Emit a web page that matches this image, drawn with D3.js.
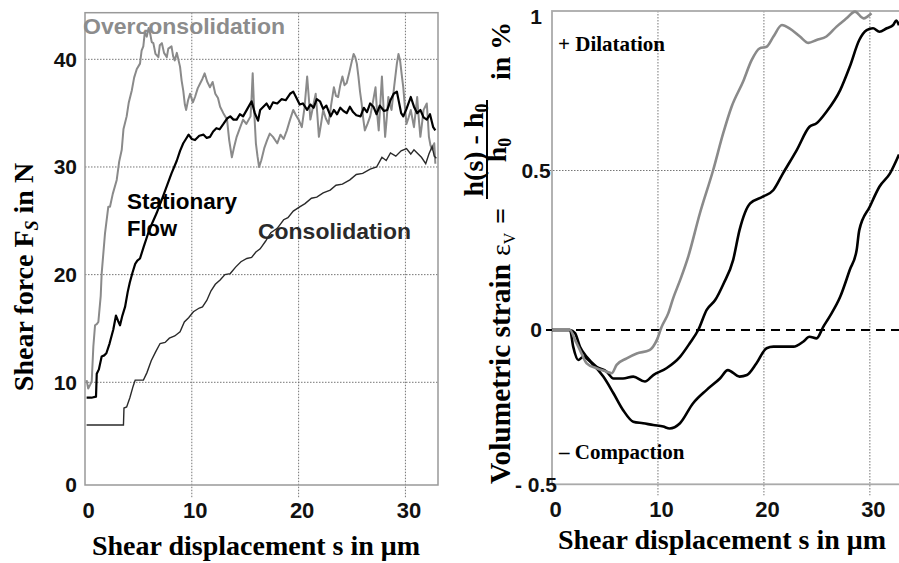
<!DOCTYPE html>
<html>
<head>
<meta charset="utf-8">
<script src="https://cdn.jsdelivr.net/npm/d3@7"></script>
<style>
  body { margin: 0; background: #fff; }
  svg { display: block; }
  text { font-family: "Liberation Sans", Arial, sans-serif; font-weight: bold; }
  .serif { font-family: "Liberation Serif", "Times New Roman", serif; }
</style>
</head>
<body>
<div class="root"></div>
<script>

// ---------- left panel: shear force F_S (N) vs shear displacement s (um) ----------
var overPts = [
  [0.15,10.2],[0.3,9.4],[0.5,9.8],[0.63,10.1],[0.78,13.3],[0.94,15.3],[1.1,15.4],[1.25,15.6],[1.47,18.0],
  [1.56,20.1],[1.87,23.8],[2.18,26.3],[2.34,26.3],[2.6,27.5],[2.97,28.8],[3.2,30.5],[3.44,31.6],[3.6,33.5],
  [3.9,34.7],[4.1,36.0],[4.38,37.1],[4.6,38.3],[4.85,39.1],[5.15,39.6],[5.3,40.8],[5.46,41.2],[5.6,42.5],
  [5.78,42.1],[5.95,42.9],[6.1,42.4],[6.25,41.6],[6.4,41.5],[6.6,40.5],[6.87,40.2],[7.0,41.3],[7.2,41.5],
  [7.4,40.6],[7.66,40.2],[7.8,41.0],[8.1,41.2],[8.25,40.3],[8.4,39.9],[8.6,40.6],[8.9,39.3],[9.05,38.0],
  [9.2,37.1],[9.35,35.8],[9.47,35.3],[9.65,36.2],[9.84,36.8],[10.1,36.0],[10.3,36.5],[10.55,37.3],[10.8,37.8],
  [11.0,38.2],[11.2,38.7],[11.45,37.9],[11.7,37.4],[11.95,37.9],[12.2,36.8],[12.45,36.4],[12.65,35.6],
  [12.95,35.0],[13.3,34.4],[13.5,32.5],[13.75,30.9],[13.95,31.8],[14.2,32.8],[14.5,33.6],[14.8,34.4],
  [15.1,34.0],[15.5,34.7],[15.6,36.5],[15.7,38.7],[15.85,35.0],[16.0,32.2],[16.15,31.0],[16.3,30.0],
  [16.5,30.6],[16.8,31.8],[17.05,32.5],[17.3,33.1],[17.6,32.8],[18.0,32.2],[18.3,33.0],[18.6,32.6],
  [18.9,33.4],[19.2,34.4],[19.5,35.3],[19.75,34.8],[20.0,34.4],[20.3,33.7],[20.55,35.5],[20.8,38.4],
  [20.95,36.5],[21.1,34.4],[21.35,35.6],[21.6,36.8],[21.75,34.9],[21.9,32.8],[22.1,34.0],[22.3,35.3],
  [22.55,34.5],[22.8,34.0],[23.05,35.8],[23.3,37.4],[23.5,36.6],[23.7,36.5],[23.9,37.6],[24.1,38.4],
  [24.3,37.6],[24.5,37.8],[24.75,38.8],[25.0,39.9],[25.15,40.5],[25.3,40.2],[25.45,39.6],[25.6,38.4],
  [25.75,37.0],[25.9,35.9],[26.05,34.5],[26.2,33.4],[26.45,34.0],[26.7,34.7],[26.95,36.0],[27.2,37.4],
  [27.35,35.0],[27.5,33.4],[27.65,35.9],[27.8,38.4],[27.95,35.5],[28.1,32.8],[28.25,34.5],[28.4,36.5],
  [28.55,35.8],[28.7,35.3],[28.95,37.5],[29.2,39.6],[29.35,40.5],[29.5,39.9],[29.65,38.6],[29.8,37.4],
  [29.95,35.6],[30.1,34.0],[30.3,34.6],[30.5,35.3],[30.65,34.5],[30.8,33.7],[30.95,35.1],[31.1,36.5],
  [31.25,34.5],[31.4,32.8],[31.55,34.0],[31.7,35.3],[31.85,35.6],[32.0,35.9],[32.1,34.4],[32.2,32.8],
  [32.35,32.0],[32.5,31.6],[32.6,31.9],[32.7,32.2],[32.8,30.3]
];

var flowPts = [
  [0.15,8.5],[0.6,8.5],[1.03,8.6],[1.1,10.8],[1.3,11.2],[1.56,12.4],[1.8,12.5],[2.0,12.7],[2.3,13.6],
  [2.65,14.9],[2.9,16.2],[3.1,15.7],[3.28,15.3],[3.5,16.2],[3.75,17.0],[4.0,18.4],[4.2,19.3],[4.45,20.2],
  [4.7,21.0],[4.9,21.3],[5.15,21.5],[5.5,22.6],[5.9,23.8],[6.3,24.8],[6.7,25.7],[7.2,27.0],[7.65,28.2],
  [8.1,29.4],[8.6,30.6],[8.9,31.5],[9.2,32.2],[9.45,32.6],[9.7,33.0],[10.0,32.6],[10.3,32.5],[10.7,32.9],
  [11.1,33.0],[11.4,32.7],[11.7,32.8],[12.0,33.3],[12.3,33.6],[12.6,33.5],[12.96,34.0],[13.3,34.5],
  [13.6,34.7],[13.9,34.4],[14.2,34.4],[14.5,34.9],[14.8,34.7],[15.2,35.4],[15.6,36.1],[15.9,35.0],
  [16.2,34.3],[16.4,35.3],[16.7,35.6],[17.0,35.9],[17.3,35.4],[17.6,36.0],[18.0,35.9],[18.4,36.3],
  [18.8,36.2],[19.2,36.8],[19.5,37.0],[19.8,36.4],[20.1,35.8],[20.4,35.9],[20.8,35.3],[21.1,35.8],
  [21.4,35.5],[21.7,36.3],[22.0,36.1],[22.3,35.4],[22.6,35.7],[23.0,34.7],[23.3,35.3],[23.6,34.9],
  [23.9,35.5],[24.2,35.2],[24.5,35.0],[24.8,35.6],[25.1,35.1],[25.4,34.8],[25.8,34.7],[26.1,35.5],
  [26.4,35.1],[26.7,35.9],[27.0,35.6],[27.3,34.9],[27.6,35.7],[28.0,35.2],[28.3,35.3],[28.6,36.2],
  [28.9,36.8],[29.2,37.0],[29.4,36.0],[29.6,35.0],[29.8,34.7],[30.1,35.4],[30.5,36.5],[30.8,35.6],
  [31.1,35.0],[31.4,35.3],[31.7,34.6],[32.0,34.4],[32.3,34.9],[32.6,33.7],[32.8,33.4]
];

var consPts = [
  [0.15,5.84],[3.6,5.84],[3.65,7.5],[3.9,7.6],[4.2,8.5],[4.5,9.6],[4.7,10.2],[5.47,10.2],[5.8,10.9],
  [6.2,12.0],[6.6,12.8],[7.03,13.6],[7.5,13.7],[7.9,14.1],[8.4,14.3],[8.9,14.7],[9.3,15.6],[9.7,16.0],
  [10.15,16.55],[10.7,16.9],[11.0,17.0],[11.4,17.6],[11.8,18.5],[12.2,19.1],[12.65,19.5],[13.1,20.0],
  [13.6,20.1],[14.1,20.7],[14.6,21.2],[15.15,21.5],[15.6,21.6],[16.0,22.1],[16.4,22.4],[16.9,23.1],
  [17.4,23.9],[18.0,24.3],[18.6,25.1],[19.0,25.3],[19.5,25.9],[20.1,26.3],[20.6,26.6],[21.2,27.1],
  [21.7,27.2],[22.3,27.6],[22.96,27.85],[23.5,28.3],[24.1,28.4],[24.8,28.8],[25.4,29.3],[26.0,29.4],
  [26.7,29.8],[27.3,30.0],[27.8,30.9],[28.2,30.6],[28.6,31.3],[29.1,31.0],[29.6,31.5],[30.1,31.7],
  [30.5,31.2],[30.8,31.6],[31.1,31.3],[31.5,30.9],[31.9,30.3],[32.2,31.2],[32.5,31.9],[32.7,31.0],[32.9,30.8]
];

var forceTicks = [0, 10, 20, 30, 40];
var dispTicks  = [0, 10, 20, 30];

// ---------- right panel: volumetric strain (%) vs shear displacement s (um) ----------
var strainOver = [
  [0,0],[1.7,0],[2.17,-0.032],[2.64,-0.065],[3.27,-0.108],[4.2,-0.124],[5.16,-0.135],[5.63,-0.14],
  [6.1,-0.113],[7.05,-0.092],[8.0,-0.076],[9.2,-0.065],[9.9,-0.032],[10.35,0.01],[10.97,0.052],[11.44,0.1],
  [12.1,0.157],[12.86,0.23],[13.96,0.366],[15.2,0.5],[16.16,0.617],[16.95,0.7],[18.05,0.78],[18.84,0.846],
  [19.6,0.883],[20.25,0.888],[20.9,0.92],[21.7,0.956],[22.45,0.945],[23.4,0.92],[24.2,0.9],[24.97,0.909],
  [25.9,0.92],[26.86,0.951],[27.8,0.977],[28.6,0.998],[29.4,0.977],[30.15,0.993]
];

var strainFlow = [
  [0,0],[1.7,0],[2.17,-0.01],[2.64,-0.054],[3.27,-0.087],[4.2,-0.119],[5.16,-0.135],[5.8,-0.157],
  [6.7,-0.157],[7.67,-0.151],[8.77,-0.167],[9.56,-0.146],[10.8,-0.124],[12.08,-0.087],[13.0,-0.043],
  [13.8,0],[14.6,0.063],[15.4,0.094],[16.2,0.146],[17.1,0.22],[17.7,0.313],[18.7,0.397],[19.9,0.418],
  [20.9,0.439],[21.8,0.491],[23.1,0.564],[24.3,0.637],[24.97,0.648],[25.9,0.684],[27.2,0.752],[28.1,0.825],
  [29.0,0.909],[29.7,0.94],[30.3,0.946],[30.9,0.935],[31.6,0.946],[32.2,0.956],[32.5,0.97],[32.75,0.955]
];

var strainCons = [
  [0,0],[1.7,0],[2.0,-0.054],[2.48,-0.097],[2.95,-0.087],[3.9,-0.113],[4.84,-0.151],[5.8,-0.205],
  [6.7,-0.259],[7.67,-0.297],[8.6,-0.302],[9.56,-0.308],[10.5,-0.313],[11.1,-0.319],[12.08,-0.302],
  [13.3,-0.238],[14.6,-0.194],[15.85,-0.157],[16.6,-0.13],[17.7,-0.151],[18.4,-0.146],[19.3,-0.108],
  [20.25,-0.059],[20.9,-0.054],[22.8,-0.054],[23.7,-0.038],[24.3,-0.022],[24.97,-0.027],[25.6,0.01],
  [26.2,0.042],[27.2,0.104],[28.1,0.188],[28.75,0.25],[29.0,0.313],[30.0,0.387],[30.9,0.449],[31.9,0.491],
  [32.75,0.55]
];

var strainTicks  = [-0.5, 0, 0.5, 1];
var strainLabels = ['- 0.5', '0', '0.5', '1'];


var width = 899, height = 563;

var svg = d3.select('.root')
            .append('svg')
            .attr('width', width)
            .attr('height', height);

var sans  = '"Liberation Sans", Arial, sans-serif';

//=============== left panel ===================

var xL = d3.scaleLinear().domain([0, 33.05]).range([85, 438]);
var yL = d3.scaleLinear().domain([0, 10, 44.33]).range([485, 382.3, 12.7]);

var left = svg.append('g');

left.selectAll('.vgrid')
    .data(dispTicks.slice(1))
    .enter().append('line')
    .attr('x1', d => xL(d)).attr('x2', d => xL(d))
    .attr('y1', yL(44.33)).attr('y2', yL(0) + 13)
    .style('stroke', '#666').style('stroke-width', 0.9).style('stroke-dasharray', '1.5,1.5');

left.selectAll('.hgrid')
    .data(forceTicks.slice(1))
    .enter().append('line')
    .attr('x1', xL(0)).attr('x2', xL(33.05))
    .attr('y1', d => yL(d)).attr('y2', d => yL(d))
    .style('stroke', '#666').style('stroke-width', 0.9).style('stroke-dasharray', '1.5,1.5');

left.append('rect')
    .attr('x', xL(0)).attr('y', yL(44.33))
    .attr('width', xL(33.05) - xL(0)).attr('height', yL(0) - yL(44.33))
    .style('fill', 'none').style('stroke', '#999').style('stroke-width', 1.5);

var lineL = d3.line().x(d => xL(d[0])).y(d => yL(d[1]));

left.append('path').datum(overPts).attr('d', lineL)
    .style('fill', 'none').style('stroke', '#8a8a8a').style('stroke-width', 2).style('stroke-linejoin', 'round');
left.append('path').datum(consPts).attr('d', lineL)
    .style('fill', 'none').style('stroke', '#2a2a2a').style('stroke-width', 1.4);
left.append('path').datum(flowPts).attr('d', lineL)
    .style('fill', 'none').style('stroke', '#000').style('stroke-width', 2.2).style('stroke-linejoin', 'round');

var yAxisL = left.append('g')
    .attr('transform', 'translate(' + xL(0) + ',0)')
    .call(d3.axisLeft(yL).tickValues(forceTicks).tickSize(0).tickPadding(8));
yAxisL.select('.domain').remove();
yAxisL.selectAll('text').attr('font-family', sans).attr('font-size', 21).attr('font-weight', 'bold').attr('fill', '#111');

var xAxisL = left.append('g')
    .attr('transform', 'translate(0,' + yL(0) + ')')
    .call(d3.axisBottom(xL).tickValues(dispTicks).tickSize(0).tickPadding(17));
xAxisL.select('.domain').remove();
xAxisL.selectAll('text').attr('font-family', sans).attr('font-size', 22).attr('font-weight', 'bold').attr('fill', '#111')
    .attr('x', 3);

left.append('text').attr('class', 'serif')
    .attr('x', 256).attr('y', 555)
    .attr('text-anchor', 'middle').attr('font-size', 28)
    .text('Shear displacement s in \u03bcm');

var yTitleL = left.append('text').attr('class', 'serif')
    .attr('transform', 'translate(33,277) rotate(-90)')
    .attr('text-anchor', 'middle').attr('font-size', 28);
yTitleL.append('tspan').text('Shear force F');
yTitleL.append('tspan').attr('dy', 5).attr('font-size', 18).attr('font-style', 'italic').text('S');
yTitleL.append('tspan').attr('dy', -5).text('  in N');

left.append('text').attr('x', 83).attr('y', 34)
    .attr('font-size', 22).attr('fill', '#8c8c8c')
    .attr('textLength', 202).attr('lengthAdjust', 'spacingAndGlyphs').text('Overconsolidation');
left.append('text').attr('x', 127).attr('y', 209).attr('font-size', 22)
    .attr('textLength', 110).attr('lengthAdjust', 'spacingAndGlyphs').text('Stationary');
left.append('text').attr('x', 127).attr('y', 236).attr('font-size', 22).text('Flow');
left.append('text').attr('x', 258).attr('y', 239)
    .attr('font-size', 22).attr('fill', '#2a2a2a')
    .attr('textLength', 153).attr('lengthAdjust', 'spacingAndGlyphs').text('Consolidation');


//=============== right panel ===================

var xR = d3.scaleLinear().domain([0, 32.75]).range([552, 899]);
var yR = d3.scaleLinear().domain([-0.5, 0, 1]).range([484.3, 330, 11]);

var right = svg.append('g');

right.selectAll('.vgrid')
    .data(dispTicks.slice(1))
    .enter().append('line')
    .attr('x1', d => xR(d)).attr('x2', d => xR(d))
    .attr('y1', yR(1)).attr('y2', yR(-0.5) + 11)
    .style('stroke', '#666').style('stroke-width', 0.9).style('stroke-dasharray', '1.5,1.5');

right.append('line')
    .attr('x1', xR(0) - 5).attr('x2', width)
    .attr('y1', yR(0.5)).attr('y2', yR(0.5))
    .style('stroke', '#666').style('stroke-width', 0.9).style('stroke-dasharray', '1.5,1.5');

right.append('rect')
    .attr('x', xR(0)).attr('y', yR(1))
    .attr('width', width + 10 - xR(0)).attr('height', yR(-0.5) - yR(1))
    .style('fill', 'none').style('stroke', '#aaa').style('stroke-width', 1.8);

right.append('line')
    .attr('x1', xR(0) - 6).attr('x2', width)
    .attr('y1', yR(0)).attr('y2', yR(0))
    .style('stroke', '#000').style('stroke-width', 2).style('stroke-dasharray', '9,6');

var lineR = d3.line().x(d => xR(d[0])).y(d => yR(d[1])).curve(d3.curveMonotoneX);

right.append('path').datum(strainCons).attr('d', lineR)
    .style('fill', 'none').style('stroke', '#000').style('stroke-width', 2.6);
right.append('path').datum(strainFlow).attr('d', lineR)
    .style('fill', 'none').style('stroke', '#000').style('stroke-width', 2.6);
right.append('path').datum(strainOver).attr('d', lineR)
    .style('fill', 'none').style('stroke', '#8a8a8a').style('stroke-width', 2.6);

var yAxisR = right.append('g')
    .attr('transform', 'translate(' + xR(0) + ',0)')
    .call(d3.axisLeft(yR).tickValues(strainTicks).tickSize(0).tickPadding(0)
            .tickFormat((d, i) => strainLabels[i]));
yAxisR.select('.domain').remove();
yAxisR.selectAll('text').attr('font-family', sans).attr('font-size', 21).attr('font-weight', 'bold').attr('fill', '#111')
    .attr('text-anchor', 'middle').attr('x', -16)
    .attr('y', d => d === 1 ? 6 : 0);

var xAxisR = right.append('g')
    .attr('transform', 'translate(0,' + yR(-0.5) + ')')
    .call(d3.axisBottom(xR).tickValues(dispTicks).tickSize(0).tickPadding(17));
xAxisR.select('.domain').remove();
xAxisR.selectAll('text').attr('font-family', sans).attr('font-size', 22).attr('font-weight', 'bold').attr('fill', '#111')
    .attr('x', 3);

right.append('text').attr('class', 'serif')
    .attr('x', 722).attr('y', 549)
    .attr('text-anchor', 'middle').attr('font-size', 28)
    .text('Shear displacement s in \u03bcm');

right.append('text').attr('class', 'serif')
    .attr('x', 558).attr('y', 51).attr('font-size', 21).text('+ Dilatation');
right.append('text').attr('class', 'serif')
    .attr('x', 559).attr('y', 459).attr('font-size', 21).text('\u2013 Compaction');

// rotated y title with the fraction
var yt = right.append('g').attr('transform', 'translate(510,0) rotate(-90)');
yt.append('text').attr('class', 'serif').attr('x', -484).attr('y', 0)
    .attr('font-size', 29).attr('textLength', 220).attr('lengthAdjust', 'spacingAndGlyphs')
    .text('Volumetric strain');
var eps = yt.append('text').attr('class', 'serif').attr('x', -256).attr('y', 0).attr('font-size', 28);
eps.append('tspan').attr('font-weight', 'normal').text('\u03b5');
eps.append('tspan').attr('dy', 5).attr('font-size', 16).attr('font-weight', 'normal').text('V');
yt.append('text').attr('class', 'serif').attr('x', -224).attr('y', 0)
    .attr('font-size', 28).attr('font-weight', 'normal').text('=');
yt.append('line')
    .attr('x1', -199).attr('x2', -100).attr('y1', -23).attr('y2', -23)
    .style('stroke', '#000').style('stroke-width', 2);
var num = yt.append('text').attr('class', 'serif').attr('x', -150).attr('y', -27)
    .attr('text-anchor', 'middle').attr('font-size', 28);
num.append('tspan').text('h(s) - h');
num.append('tspan').attr('dy', 5).attr('font-size', 18).text('0');
var den = yt.append('text').attr('class', 'serif').attr('x', -150).attr('y', -4)
    .attr('text-anchor', 'middle').attr('font-size', 28);
den.append('tspan').text('h');
den.append('tspan').attr('dy', 5).attr('font-size', 18).text('0');
yt.append('text').attr('class', 'serif').attr('x', -80).attr('y', 0)
    .attr('font-size', 28).text('in %');

</script>
</body>
</html>
